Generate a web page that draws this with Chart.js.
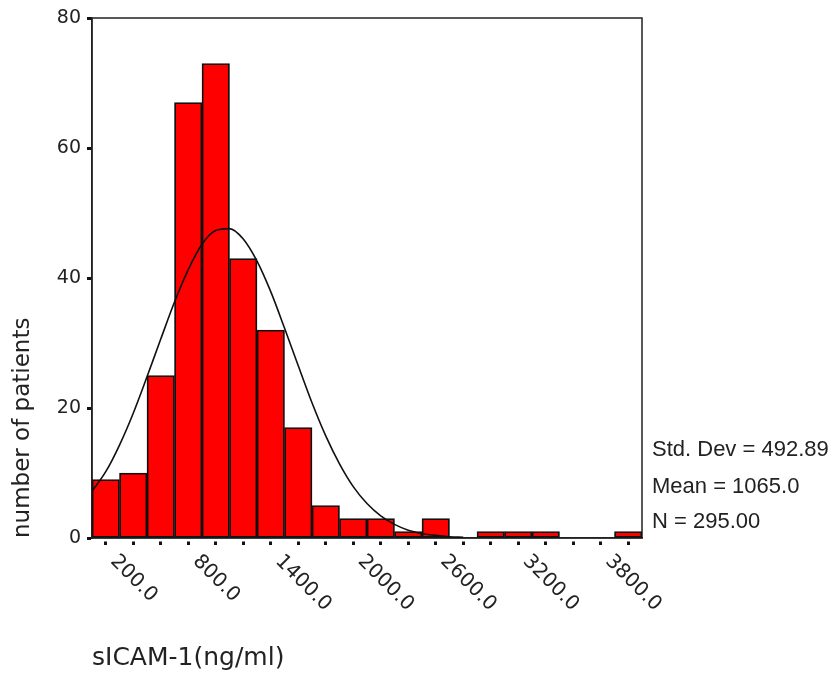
<!DOCTYPE html>
<html>
<head>
<meta charset="utf-8">
<script src="https://cdn.jsdelivr.net/npm/chart.js@4.4.1/dist/chart.umd.min.js"></script>
<style>
  html, body { margin: 0; padding: 0; background: #fff; }
  #wrap { width: 835px; height: 675px; }
</style>
</head>
<body>
<div id="wrap"><canvas id="chart01" width="835" height="675"></canvas></div>
<script>
// histogram bins (centre of each 200 ng/ml bin) and patient counts
var binCenters = [200, 400, 600, 800, 1000, 1200, 1400, 1600, 1800, 2000,
                  2200, 2400, 2600, 2800, 3000, 3200, 3400, 3600, 3800, 4000];
var counts = [9, 10, 25, 67, 73, 43, 32, 17, 5, 3,
              3, 1, 3, 0, 1, 1, 1, 0, 0, 1];

// fitted normal curve
var curveX = [100, 200, 300, 400, 500, 600, 700, 800, 900, 1000,
              1100, 1200, 1300, 1400, 1500, 1600, 1700, 1800, 1900, 2000,
              2100, 2200, 2300, 2400, 2500, 2600, 2700, 2800];
var curveY = [7.2, 10.2, 14.3, 19.2, 24.8, 30.6, 36.3, 41.3, 45.2, 47.3,
              47.6, 46, 42.6, 37.9, 32.3, 26.5, 20.8, 15.7, 11.4, 7.9,
              5.3, 3.4, 2.1, 1.2, 0.7, 0.4, 0.2, 0.1];

var yTicks = [0, 20, 40, 60, 80];
var xLabelTicks = [200, 800, 1400, 2000, 2600, 3200, 3800];
var statLines = ['Std. Dev = 492.89', 'Mean = 1065.0', 'N = 295.00'];
var xTitle = 'sICAM-1(ng/ml)';
var yTitle = 'number of patients';

var textColor = '#222';

// frame, rotated x labels, axis titles and the stats block
var extraText = {
  id: 'extraText',
  beforeDatasetsDraw: function(chart) {
    var ctx = chart.ctx, a = chart.chartArea;
    ctx.save();
    ctx.strokeStyle = '#222';
    ctx.lineWidth = 1.5;
    ctx.strokeRect(a.left, a.top, a.right - a.left, a.bottom - a.top);
    ctx.restore();
  },
  afterDraw: function(chart) {
    var ctx = chart.ctx, a = chart.chartArea, xs = chart.scales.x;
    ctx.save();
    ctx.fillStyle = textColor;

    // x tick labels, turned 45 deg clockwise
    ctx.font = '20px "DejaVu Sans"';
    ctx.textAlign = 'left';
    ctx.textBaseline = 'alphabetic';
    xLabelTicks.forEach(function(v) {
      var px = xs.getPixelForValue(v);
      ctx.save();
      ctx.translate(px + 4, a.bottom + 24);
      ctx.rotate(Math.PI / 4);
      ctx.fillText(v.toFixed(1), 0, 0);
      ctx.restore();
    });

    // y title, starts at the bottom of the axis
    ctx.save();
    ctx.font = '23px "DejaVu Sans"';
    ctx.textBaseline = 'middle';
    ctx.translate(23, a.bottom);
    ctx.rotate(-Math.PI / 2);
    ctx.fillText(yTitle, 0, 0);
    ctx.restore();

    // x title
    ctx.font = '25px "DejaVu Sans"';
    ctx.fillText(xTitle, a.left, 665);

    // stats
    ctx.font = '22px "Liberation Sans", Arial, sans-serif';
    var baseY = [456, 493, 528];
    statLines.forEach(function(t, i) {
      ctx.fillText(t, a.right + 10, baseY[i]);
    });
    ctx.restore();
  }
};

var ctx = document.getElementById('chart01');
var myChart = new Chart(ctx, {
  type: 'bar',
  data: {
    datasets: [
    {
      type: 'line',
      data: curveX.map(function(x, i) { return { x: x, y: curveY[i] }; }),
      borderColor: '#111',
      borderWidth: 1.6,
      pointRadius: 0,
      fill: false,
      cubicInterpolationMode: 'monotone',
      order: 0,
    },{
      type: 'bar',
      data: binCenters.map(function(c, i) { return { x: c, y: counts[i] }; }),
      backgroundColor: '#ff0000',
      borderColor: '#111',
      borderWidth: 1.8,
      borderSkipped: false,
      barPercentage: 1,
      categoryPercentage: 1,
      order: 1,
    }]
  },
  plugins: [extraText],
  options: {
    responsive: false,
    animation: false,
    layout: {
      padding: { left: 0, top: 18, right: 193, bottom: 0 }
    },
    plugins: {
      legend: { display: false },
      tooltip: { enabled: false },
    },
    scales: {
      x: {
        type: 'linear',
        min: 100,
        max: 4100,
        offset: false,
        afterBuildTicks: function(scale) {
          scale.ticks = binCenters.map(function(v) { return { value: v }; });
        },
        afterFit: function(scale) { scale.height = 137; },
        ticks: { display: false },
        grid: {
          offset: false,
          drawOnChartArea: false,
          drawTicks: true,
          tickLength: 7,
          tickWidth: 3,
          tickColor: '#111',
          tickBorderDash: [0, 3, 4],
        },
        border: { display: true, color: '#222', width: 1.5 },
      },
      y: {
        type: 'linear',
        min: 0,
        max: 80,
        afterBuildTicks: function(scale) {
          scale.ticks = yTicks.map(function(v) { return { value: v }; });
        },
        afterFit: function(scale) { scale.width = 92; },
        ticks: {
          color: textColor,
          padding: 6,
          font: { family: 'DejaVu Sans', size: 19 },
        },
        grid: {
          drawOnChartArea: false,
          drawTicks: true,
          tickLength: 5,
          tickWidth: 3,
          tickColor: '#111',
        },
        border: { display: true, color: '#222', width: 1.5 },
      },
    }
  },
});
</script>
</body>
</html>
